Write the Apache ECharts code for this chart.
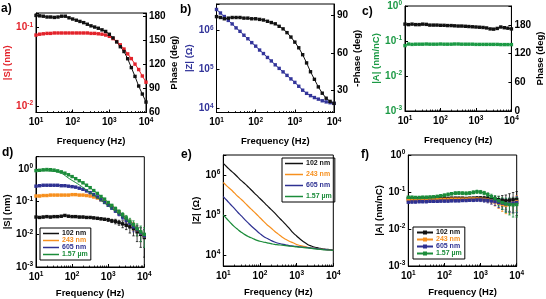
<!DOCTYPE html>
<html>
<head>
<meta charset="utf-8">
<script src="https://cdn.jsdelivr.net/npm/echarts@6/dist/echarts.min.js"></script>
<style>
  html, body { margin: 0; background: #fff; }
  #chart { width: 546px; height: 299px; }
</style>
</head>
<body>
<div id="chart"></div>
<script>
// frequencies (Hz), 10 points per decade
const freq = [10, 12.6, 15.8, 20, 25.1, 31.6, 39.8, 50.1, 63.1, 79.4, 100, 126, 158, 200, 251, 316, 398, 501, 631, 794,
  1000, 1259, 1585, 1995, 2512, 3162, 3981, 5012, 6310, 7943, 10000];

// a) |S| (nm) and phase (deg)
const aAmp = [0.080, 0.082, 0.083, 0.084, 0.084, 0.085, 0.085, 0.085, 0.085, 0.085, 0.085, 0.085, 0.085, 0.085, 0.085, 0.084,
  0.084, 0.083, 0.082, 0.080, 0.077, 0.072, 0.066, 0.060, 0.053, 0.046, 0.040, 0.034, 0.029, 0.024, 0.020];
const aPhase = [181, 180.5, 180, 179, 179, 178.5, 179, 180, 180, 178, 176.5, 175, 173.5, 172, 170, 168, 166.5, 165, 163, 161,
  157.5, 153, 148, 142, 136, 127, 116, 105, 93, 83, 73];

// b) |Z| (ohm) and -phase (deg)
const bImp = [3.47e6, 2.82e6, 2.29e6, 1.82e6, 1.48e6, 1.17e6, 9.55e5, 7.59e5, 6.17e5, 4.90e5, 3.98e5, 3.16e5, 2.57e5, 2.04e5,
  1.66e5, 1.32e5, 1.07e5, 8.71e4, 7.08e4, 5.75e4, 4.68e4, 3.72e4, 2.95e4, 2.45e4, 2.14e4, 1.91e4, 1.74e4, 1.58e4, 1.48e4,
  1.41e4, 1.35e4];
const bPhase = [88.7, 88, 87, 87.5, 88, 88, 88, 87.5, 87.5, 87, 87, 86.5, 86, 85, 84, 83, 81, 79, 76, 72.5,
  68.5, 64, 58.5, 52, 45, 39, 33, 28, 24, 21.5, 20];

// c) |A| (nm/nC) and phase (deg)
const cCoef = [0.074, 0.082, 0.080, 0.081, 0.081, 0.081, 0.082, 0.081, 0.081, 0.081, 0.082, 0.081, 0.081, 0.081, 0.082, 0.082,
  0.081, 0.081, 0.081, 0.081, 0.080, 0.080, 0.080, 0.080, 0.080, 0.080, 0.080, 0.079, 0.079, 0.079, 0.079];
const cPhase = [182, 181, 182, 181, 181, 182, 181.5, 180, 180, 180, 179.5, 179.5, 179, 179, 178.5, 178, 178, 177.5, 177, 176.5,
  176, 175.5, 175, 174, 172, 171.5, 173, 176, 174.5, 173.5, 172];

// film thicknesses for d), e), f)
const thick = ['102 nm', '243 nm', '605 nm', '1.57 µm'];

// d) |S| (nm) and error
const dAmp = [
  [0.034, 0.033, 0.034, 0.035, 0.034, 0.035, 0.035, 0.036, 0.038, 0.036, 0.035, 0.035, 0.034, 0.034, 0.033, 0.033,
    0.032, 0.031, 0.030, 0.029, 0.028, 0.026, 0.025, 0.023, 0.021, 0.019, 0.017, 0.015, 0.012, 0.010, 0.008],
  [0.15, 0.15, 0.155, 0.155, 0.16, 0.16, 0.16, 0.16, 0.16, 0.16, 0.165, 0.165, 0.16, 0.16, 0.155, 0.15,
    0.14, 0.13, 0.115, 0.10, 0.085, 0.07, 0.058, 0.047, 0.037, 0.029, 0.023, 0.018, 0.014, 0.011, 0.009],
  [0.30, 0.31, 0.32, 0.32, 0.32, 0.32, 0.32, 0.31, 0.31, 0.30, 0.29, 0.28, 0.26, 0.24, 0.215, 0.19,
    0.165, 0.14, 0.115, 0.095, 0.078, 0.064, 0.052, 0.042, 0.034, 0.027, 0.022, 0.017, 0.014, 0.011, 0.009],
  [0.90, 0.92, 0.95, 0.97, 0.96, 0.93, 0.88, 0.82, 0.75, 0.67, 0.59, 0.51, 0.44, 0.38, 0.32, 0.27,
    0.22, 0.18, 0.145, 0.12, 0.095, 0.077, 0.062, 0.050, 0.040, 0.032, 0.025, 0.020, 0.015, 0.012, 0.010]
];
const dErr = [
  [0.002, 0.002, 0.002, 0.002, 0.002, 0.002, 0.002, 0.002, 0.002, 0.002, 0.002, 0.002, 0.002, 0.002, 0.002, 0.002,
    0.002, 0.002, 0.002, 0.002, 0.003, 0.003, 0.004, 0.004, 0.005, 0.005, 0.006, 0.006, 0.006, 0.006, 0.006],
  [0.008, 0.008, 0.008, 0.008, 0.008, 0.008, 0.008, 0.008, 0.008, 0.008, 0.008, 0.008, 0.008, 0.008, 0.008, 0.008,
    0.007, 0.007, 0.006, 0.006, 0.005, 0.005, 0.005, 0.005, 0.005, 0.005, 0.005, 0.005, 0.005, 0.005, 0.005],
  [0.015, 0.015, 0.015, 0.015, 0.015, 0.015, 0.015, 0.015, 0.015, 0.015, 0.015, 0.014, 0.013, 0.012, 0.011, 0.010,
    0.009, 0.008, 0.007, 0.006, 0.005, 0.005, 0.005, 0.005, 0.005, 0.005, 0.005, 0.005, 0.005, 0.005, 0.005],
  [0.05, 0.05, 0.05, 0.05, 0.05, 0.05, 0.05, 0.05, 0.04, 0.04, 0.03, 0.03, 0.025, 0.02, 0.02, 0.015,
    0.012, 0.01, 0.008, 0.007, 0.006, 0.006, 0.006, 0.006, 0.006, 0.006, 0.006, 0.006, 0.006, 0.006, 0.006]
];
// model curve for the 1.57 µm film
const dFitFreq = [10, 31.6, 100, 316, 1000, 3162, 10000];
const dFitThick = [0.90, 0.85, 0.45, 0.19, 0.075, 0.028, 0.009];

// e) |Z| (ohm)
const eImp = [
  [1.95e6, 1.58e6, 1.29e6, 1.07e6, 8.7e5, 7.1e5, 5.9e5, 4.8e5, 3.9e5, 3.16e5, 2.57e5, 2.09e5, 1.70e5, 1.38e5, 1.12e5, 8.9e4,
    7.2e4, 5.8e4, 4.6e4, 3.6e4, 2.95e4, 2.45e4, 2.09e4, 1.82e4, 1.66e4, 1.55e4, 1.48e4, 1.41e4, 1.38e4, 1.35e4, 1.32e4],
  [6.46e5, 5.25e5, 4.37e5, 3.55e5, 2.88e5, 2.40e5, 1.95e5, 1.58e5, 1.29e5, 1.05e5, 8.5e4, 6.9e4, 5.6e4, 4.7e4, 3.9e4, 3.3e4,
    2.8e4, 2.45e4, 2.19e4, 2.0e4, 1.82e4, 1.70e4, 1.62e4, 1.55e4, 1.48e4, 1.45e4, 1.41e4, 1.38e4, 1.35e4, 1.32e4, 1.32e4],
  [2.88e5, 2.29e5, 1.82e5, 1.45e5, 1.15e5, 9.3e4, 7.4e4, 6.0e4, 4.9e4, 4.07e4, 3.39e4, 2.88e4, 2.57e4, 2.29e4, 2.09e4, 1.95e4,
    1.86e4, 1.78e4, 1.70e4, 1.66e4, 1.62e4, 1.58e4, 1.55e4, 1.51e4, 1.48e4, 1.45e4, 1.41e4, 1.38e4, 1.35e4, 1.32e4, 1.32e4],
  [1.0e5, 7.9e4, 6.3e4, 5.1e4, 4.27e4, 3.63e4, 3.16e4, 2.82e4, 2.57e4, 2.34e4, 2.19e4, 2.09e4, 2.0e4, 1.91e4, 1.82e4, 1.78e4,
    1.74e4, 1.70e4, 1.66e4, 1.62e4, 1.58e4, 1.55e4, 1.51e4, 1.48e4, 1.45e4, 1.41e4, 1.38e4, 1.35e4, 1.32e4, 1.32e4, 1.29e4]
];

// f) |A| (nm/nC) and error
const fCoef = [
  [0.066, 0.065, 0.066, 0.066, 0.067, 0.066, 0.067, 0.068, 0.070, 0.068, 0.068, 0.067, 0.068, 0.068, 0.068, 0.068,
    0.067, 0.068, 0.068, 0.069, 0.069, 0.068, 0.067, 0.066, 0.064, 0.062, 0.060, 0.058, 0.060, 0.062, 0.063],
  [0.060, 0.060, 0.061, 0.061, 0.061, 0.062, 0.062, 0.062, 0.063, 0.063, 0.063, 0.063, 0.064, 0.064, 0.064, 0.064,
    0.064, 0.065, 0.065, 0.065, 0.064, 0.063, 0.061, 0.058, 0.054, 0.050, 0.046, 0.044, 0.046, 0.050, 0.055],
  [0.053, 0.054, 0.054, 0.055, 0.055, 0.055, 0.056, 0.056, 0.056, 0.057, 0.057, 0.057, 0.058, 0.058, 0.058, 0.059,
    0.059, 0.060, 0.060, 0.061, 0.061, 0.060, 0.059, 0.057, 0.055, 0.052, 0.050, 0.048, 0.048, 0.050, 0.052],
  [0.072, 0.072, 0.071, 0.071, 0.072, 0.072, 0.073, 0.074, 0.076, 0.079, 0.082, 0.086, 0.090, 0.093, 0.094, 0.093,
    0.092, 0.094, 0.098, 0.102, 0.100, 0.094, 0.085, 0.075, 0.066, 0.058, 0.052, 0.048, 0.046, 0.045, 0.046]
];
const fErr = [
  [0.004, 0.004, 0.004, 0.004, 0.004, 0.004, 0.004, 0.004, 0.004, 0.004, 0.004, 0.004, 0.004, 0.004, 0.004, 0.004,
    0.004, 0.004, 0.005, 0.005, 0.006, 0.007, 0.008, 0.010, 0.012, 0.015, 0.020, 0.025, 0.030, 0.035, 0.040],
  [0.004, 0.004, 0.004, 0.004, 0.004, 0.004, 0.004, 0.004, 0.004, 0.004, 0.004, 0.004, 0.004, 0.004, 0.004, 0.004,
    0.004, 0.004, 0.005, 0.005, 0.006, 0.007, 0.008, 0.010, 0.012, 0.014, 0.016, 0.018, 0.020, 0.022, 0.024],
  [0.004, 0.004, 0.004, 0.004, 0.004, 0.004, 0.004, 0.004, 0.004, 0.004, 0.004, 0.004, 0.004, 0.004, 0.004, 0.004,
    0.004, 0.004, 0.005, 0.005, 0.006, 0.007, 0.008, 0.010, 0.012, 0.014, 0.016, 0.018, 0.020, 0.022, 0.024],
  [0.005, 0.005, 0.005, 0.005, 0.005, 0.005, 0.005, 0.005, 0.005, 0.006, 0.006, 0.007, 0.007, 0.008, 0.008, 0.008,
    0.008, 0.008, 0.009, 0.010, 0.010, 0.010, 0.010, 0.012, 0.014, 0.016, 0.018, 0.020, 0.022, 0.024, 0.025]
];

const RED = '#e3232b', NAVY = '#33359a', GREENC = '#1c9a45';
const colors = ['#111111', '#f7901e', '#2e3192', '#1b8c3a'];
const FONT = 'Liberation Sans';

const pts = vals => vals.map((v, i) => [freq[i], v]);
const bars = (vals, errs) => vals.map((v, i) => [freq[i], Math.max(v - errs[i], 1e-4), v + errs[i]]);

function rich(color) {
  return {
    m: { fontSize: 10, fontWeight: 'bold', fontFamily: FONT, color: color, lineHeight: 12 },
    e: { fontSize: 6.5, fontWeight: 'bold', fontFamily: FONT, color: color, lineHeight: 7, verticalAlign: 'top' }
  };
}
function logLabel(v) {
  const p = Math.log10(v);
  if (Math.abs(p - Math.round(p)) > 1e-6) return '';
  return '{m|10}{e|' + Math.round(p) + '}';
}
const nameStyle = c => ({ fontSize: 9.5, fontWeight: 'bold', fontFamily: FONT, color: c });

const grids = [
  { left: 36, top: 13, width: 110, height: 99.5 },
  { left: 216.5, top: 4, width: 117.5, height: 108.5 },
  { left: 405, top: 5, width: 108.3, height: 106 },
  { left: 36, top: 156.7, width: 108.3, height: 110.5 },
  { left: 223.3, top: 155, width: 110, height: 111 },
  { left: 408.3, top: 155, width: 108.4, height: 111 }
].map(g => Object.assign(g, { show: true, borderColor: '#000', borderWidth: 1, backgroundColor: 'transparent' }));

function xAx(gi, gap) {
  return {
    type: 'log', logBase: 10, gridIndex: gi, min: 10, max: 10000,
    name: 'Frequency (Hz)', nameLocation: 'middle', nameGap: gap, nameTextStyle: nameStyle('#000'),
    axisLine: { lineStyle: { color: '#000', width: 1 } },
    axisTick: { inside: true, length: 3, lineStyle: { color: '#000' } },
    minorTick: { show: true, splitNumber: 9, length: 1.5, lineStyle: { color: '#000', width: 0.8 } },
    axisLabel: { formatter: logLabel, rich: rich('#000'), margin: 4 },
    splitLine: { show: false }
  };
}
function yLog(gi, min, max, name, color, gap) {
  return {
    type: 'log', logBase: 10, gridIndex: gi, min: min, max: max,
    name: name, nameLocation: 'middle', nameRotate: 90, nameGap: gap, nameTextStyle: nameStyle(color),
    axisLine: { lineStyle: { color: '#000', width: 1 } },
    axisTick: { inside: true, length: 3, lineStyle: { color: '#000' } },
    axisLabel: { formatter: logLabel, rich: rich(color), margin: 3 },
    splitLine: { show: false }
  };
}
function yPhase(gi, min, max, step, name, gap, custom) {
  const ax = {
    type: 'value', gridIndex: gi, min: min, max: max, position: 'right',
    name: name, nameLocation: 'middle', nameRotate: 90, nameGap: gap, nameTextStyle: nameStyle('#000'),
    axisLine: { show: true, lineStyle: { color: '#000', width: 1 } },
    axisTick: { inside: true, length: 3, lineStyle: { color: '#000' } },
    axisLabel: {
      margin: 3, fontSize: 10, fontWeight: 'bold', fontFamily: FONT, color: '#000',
      formatter: v => (v % step === 0 ? String(v) : '')
    },
    splitLine: { show: false }
  };
  if (custom) {
    ax.axisLabel.customValues = custom;
    ax.axisTick.customValues = custom;
  } else {
    ax.interval = step;
  }
  return ax;
}

const xAxis = [xAx(0, 24), xAx(1, 24), xAx(2, 24), xAx(3, 21), xAx(4, 21), xAx(5, 21)];
const yAxis = [
  yLog(0, 0.0082, 0.153, '|S| (nm)', RED, 21),                 // 0
  yPhase(0, 60, 184, 30, 'Phase (deg)', 21),                   // 1
  yLog(1, 7900, 4.8e6, '|Z| (\u03A9)', NAVY, 21),               // 2
  yPhase(1, 12.7, 98.7, 30, '-Phase (deg)', 13, [30, 60, 90]), // 3
  yLog(2, 0.001, 1, '|A| (nm/nC)', GREENC, 23),                // 4
  yPhase(2, 0, 220, 60, 'Phase (deg)', 22),                    // 5
  yLog(3, 0.001, 2.4, '|S| (nm)', '#000', 22),                 // 6
  yLog(4, 5250, 3.16e6, '|Z| (\u03A9)', '#000', 18),            // 7
  yLog(5, 0.001, 1, '|A| (nm/nC)', '#000', 22)                 // 8
];

function marked(name, data, color, xi, yi) {
  return {
    name: name, type: 'line', xAxisIndex: xi, yAxisIndex: yi, data: data,
    symbol: 'rect', symbolSize: 3.4, showSymbol: true,
    itemStyle: { color: color }, lineStyle: { color: color, width: 1 }, z: 3
  };
}
function errorBars(name, data, color, xi, yi) {
  return {
    name: name, type: 'custom', xAxisIndex: xi, yAxisIndex: yi, data: data, clip: true,
    encode: { x: 0, y: [1, 2] }, itemStyle: { color: color }, z: 2,
    renderItem: (params, api) => {
      const x = api.value(0);
      const lo = api.coord([x, api.value(1)]);
      const hi = api.coord([x, api.value(2)]);
      const st = { stroke: color, lineWidth: 0.8 };
      return {
        type: 'group', children: [
          { type: 'line', shape: { x1: lo[0], y1: lo[1], x2: hi[0], y2: hi[1] }, style: st },
          { type: 'line', shape: { x1: lo[0] - 1.2, y1: lo[1], x2: lo[0] + 1.2, y2: lo[1] }, style: st },
          { type: 'line', shape: { x1: hi[0] - 1.2, y1: hi[1], x2: hi[0] + 1.2, y2: hi[1] }, style: st }
        ]
      };
    }
  };
}

const series = [
  marked('a amp', pts(aAmp), RED, 0, 0),
  marked('a phase', pts(aPhase), '#111', 0, 1),
  marked('b imp', pts(bImp), NAVY, 1, 2),
  marked('b phase', pts(bPhase), '#111', 1, 3),
  marked('c coef', pts(cCoef), GREENC, 2, 4),
  marked('c phase', pts(cPhase), '#111', 2, 5)
];
thick.forEach((t, i) => {
  series.push(errorBars('dE ' + t, bars(dAmp[i], dErr[i]), colors[i], 3, 6));
  series.push(marked('d ' + t, pts(dAmp[i]), colors[i], 3, 6));
  series.push({
    name: 'e ' + t, type: 'line', xAxisIndex: 4, yAxisIndex: 7, data: pts(eImp[i]),
    symbol: 'none', smooth: true, itemStyle: { color: colors[i] }, lineStyle: { color: colors[i], width: 1.2 }
  });
  series.push(errorBars('fE ' + t, bars(fCoef[i], fErr[i]), colors[i], 5, 8));
  series.push(marked('f ' + t, pts(fCoef[i]), colors[i], 5, 8));
});
series.push({
  name: 'd fit', type: 'line', xAxisIndex: 3, yAxisIndex: 6, smooth: true, symbol: 'none',
  data: dFitFreq.map((f, i) => [f, dFitThick[i]]), lineStyle: { color: colors[3], width: 1 }, z: 4
});

function legendFor(prefix, left, top, gap, icon, w) {
  return {
    left: left, top: top, orient: 'vertical', itemGap: gap, itemWidth: w, itemHeight: icon ? 1.5 : 5,
    icon: icon, padding: [2, 3, 2, 3], borderColor: '#000', borderWidth: 1, borderRadius: 0,
    formatter: n => n.slice(2),
    textStyle: { fontSize: 7, fontWeight: 'bold', fontFamily: FONT, padding: [0, 0, 0, -2] },
    data: thick.map((t, i) => ({ name: prefix + ' ' + t, textStyle: { color: colors[i] } }))
  };
}

const labels = [['a)', 1, 3], ['b)', 180, 4], ['c)', 362, 6], ['d)', 2, 147], ['e)', 181, 149], ['f)', 361, 149]];

const chart = echarts.init(document.getElementById('chart'));
chart.setOption({
  animation: false,
  backgroundColor: '#fff',
  textStyle: { fontFamily: FONT },
  grid: grids,
  xAxis: xAxis,
  yAxis: yAxis,
  series: series,
  legend: [
    legendFor('d', 40, 228, 0, 'rect', 16),
    legendFor('e', 282, 158, 4, 'rect', 18),
    legendFor('f', 413, 227, 0, null, 16)
  ],
  graphic: labels.map(l => ({
    type: 'text', left: l[1], top: l[2],
    style: { text: l[0], fontSize: 12, fontWeight: 'bold', fontFamily: FONT, fill: '#000' }
  }))
});
</script>
</body>
</html>
